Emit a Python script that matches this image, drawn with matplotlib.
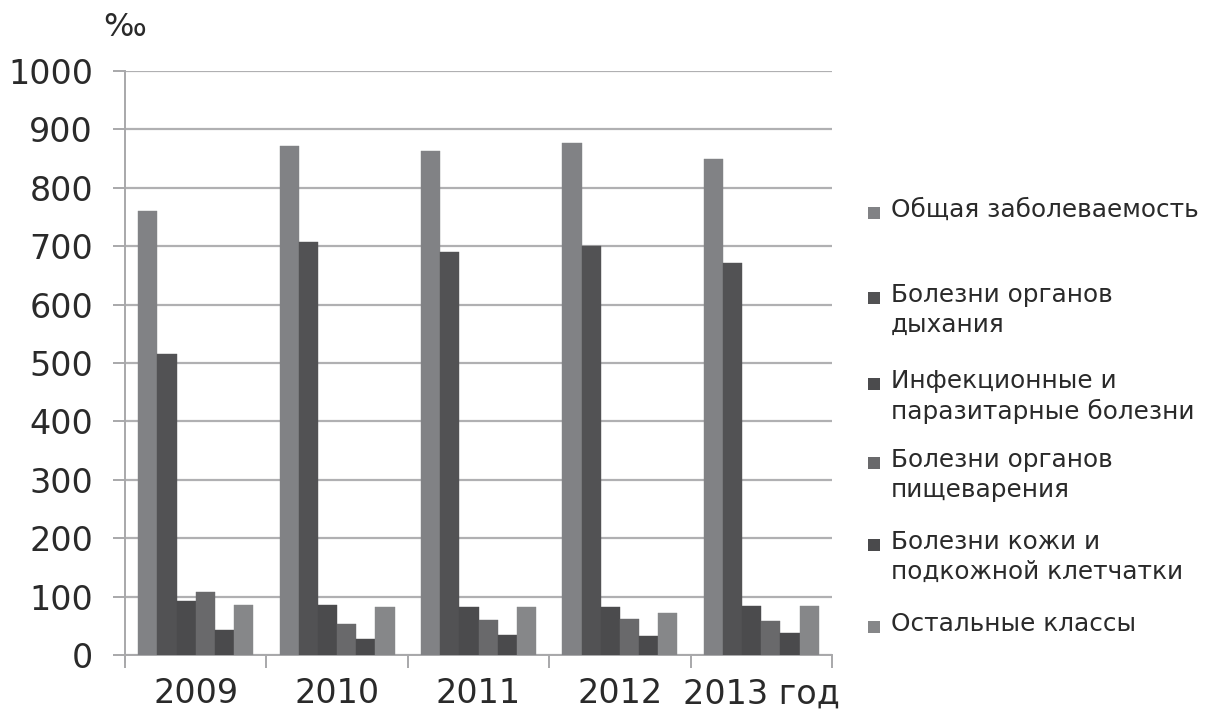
import matplotlib
matplotlib.use("Agg")
import matplotlib.pyplot as plt
import numpy as np
from matplotlib.patches import Rectangle

plt.rcParams['font.family'] = ['DejaVu Sans']

years = ["2009", "2010", "2011", "2012", "2013 год"]
series_names = [
    "Общая заболеваемость",
    "Болезни органов\nдыхания",
    "Инфекционные и\nпаразитарные болезни",
    "Болезни органов\nпищеварения",
    "Болезни кожи и\nподкожной клетчатки",
    "Остальные классы",
]
obshchaya = [760, 872, 863, 877, 849]
dykhaniya = [516, 708, 690, 701, 672]
infektsionnye = [93, 86, 82, 82, 84]
pishchevareniya = [108, 53, 60, 62, 59]
kozhi = [43, 27, 34, 33, 37]
ostalnye = [86, 82, 82, 72, 84]
series_values = [obshchaya, dykhaniya, infektsionnye, pishchevareniya, kozhi, ostalnye]
colors = ["#818285", "#525254", "#4b4b4d", "#69696b", "#4a4a4c", "#868789"]

W, H = 1206, 715
fig = plt.figure(figsize=(W / 100, H / 100), dpi=100)
ax = fig.add_axes([125 / W, 1 - 655 / H, (832 - 125) / W, (655 - 71) / H])

n = len(series_values)
bw = 0.1355
x = np.arange(len(years))
for i, (vals, c) in enumerate(zip(series_values, colors)):
    ax.bar(x + (i - (n - 1) / 2) * bw, vals, width=bw, color=c, zorder=3,
           edgecolor=c, linewidth=0.3)

ax.set_xlim(-0.5, len(years) - 0.5)
ax.set_ylim(0, 1000)
ax.set_yticks(np.arange(0, 1001, 100))
ax.yaxis.grid(True, color="#b0b0b2", linewidth=1.6, zorder=0)
ax.set_axisbelow(True)
for s in ["top", "right"]:
    ax.spines[s].set_visible(False)
ax.spines["left"].set_color("#a8a8aa")
ax.spines["left"].set_linewidth(1.4)
ax.spines["bottom"].set_color("#a8a8aa")
ax.spines["bottom"].set_linewidth(1.4)
ax.spines["left"].set_bounds(-12, 1000)

ax.set_xticks(x)
ax.set_xticklabels(years)
ax.set_xticks(np.arange(-0.5, len(years)), minor=True)
ax.tick_params(axis="x", which="major", length=0, pad=16, labelsize=24, labelcolor="#2a2a2a")
ax.tick_params(axis="x", which="minor", length=9, width=1.4, color="#a8a8aa")
ax.tick_params(axis="y", length=9, width=1.4, color="#a8a8aa", labelsize=24,
               labelcolor="#2a2a2a", pad=14)

fig.text(125 / W, 1 - 27 / H, "‰", fontsize=23, color="#2a2a2a", ha="center", va="center")

# legend
leg_y = [213, 298, 384, 463, 545, 627]
for name, c, yy in zip(series_names, colors, leg_y):
    fig.add_artist(Rectangle((868 / W, 1 - (yy + 6) / H), 12 / W, 12 / H,
                             transform=fig.transFigure, facecolor=c, edgecolor="none"))
    fig.text(891 / W, 1 - (yy - 15) / H, name, fontsize=17.8, color="#2a2a2a",
             ha="left", va="top", linespacing=1.3)

fig.savefig("out.png", dpi=100, facecolor="white")
